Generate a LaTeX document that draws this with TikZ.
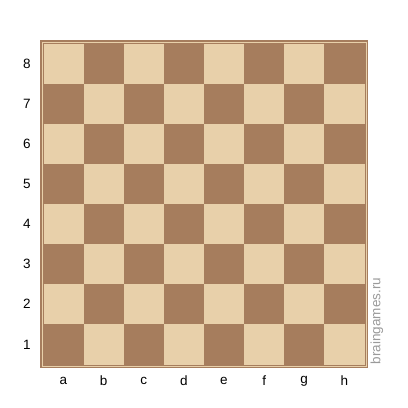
\documentclass[tikz,border=0pt]{standalone}
\usepackage{fontspec}
\setsansfont{Liberation Sans}
\usepackage{tikz}
\usetikzlibrary{positioning}
\definecolor{lightsq}{HTML}{E8D0AA}
\definecolor{darksq}{HTML}{A67D5D}
\definecolor{marktxt}{HTML}{9A9A9A}

\begin{document}
\begin{tikzpicture}[x=1pt, y=-1pt,
  sqlight/.style={fill=lightsq},
  sqdark/.style={fill=darksq},
  coordlbl/.style={font=\sffamily\fontsize{13.5}{14}\selectfont, inner sep=0pt},
  marklbl/.style={font=\sffamily\fontsize{13.5}{14}\selectfont, text=marktxt, inner sep=0pt, rotate=90}
]
  \useasboundingbox (0,0) rectangle (408,408);

  % frame
  \fill[darksq] (40,40) rectangle (368,368);
  \draw[lightsq, line width=1pt] (42,42) rectangle (366,366);

  % squares
  \foreach \c in {0,...,7} {
    \foreach \r in {0,...,7} {
      \pgfmathparse{int(mod(\c+\r,2))}
      \ifnum\pgfmathresult=0
        \fill[sqlight] ({43.5+40.125*\c},{43.5+40.125*\r}) rectangle ++(40.125,40.125);
      \else
        \fill[sqdark] ({43.5+40.125*\c},{43.5+40.125*\r}) rectangle ++(40.125,40.125);
      \fi
    }
  }

  % files
  \foreach \f [count=\i from 0] in {a,b,c,d,e,f,g,h}
    \node[coordlbl] (file-\f) at ({63.5+40.125*\i},381) {\f};

  % ranks
  \foreach \n in {1,...,8}
    \node[coordlbl] (rank-\n) at (27,{63.5+40.125*(8-\n)}) {\n};

  % watermark
  \node[marklbl] (mark) at (377,321) {braingames.ru};
\end{tikzpicture}
\end{document}
